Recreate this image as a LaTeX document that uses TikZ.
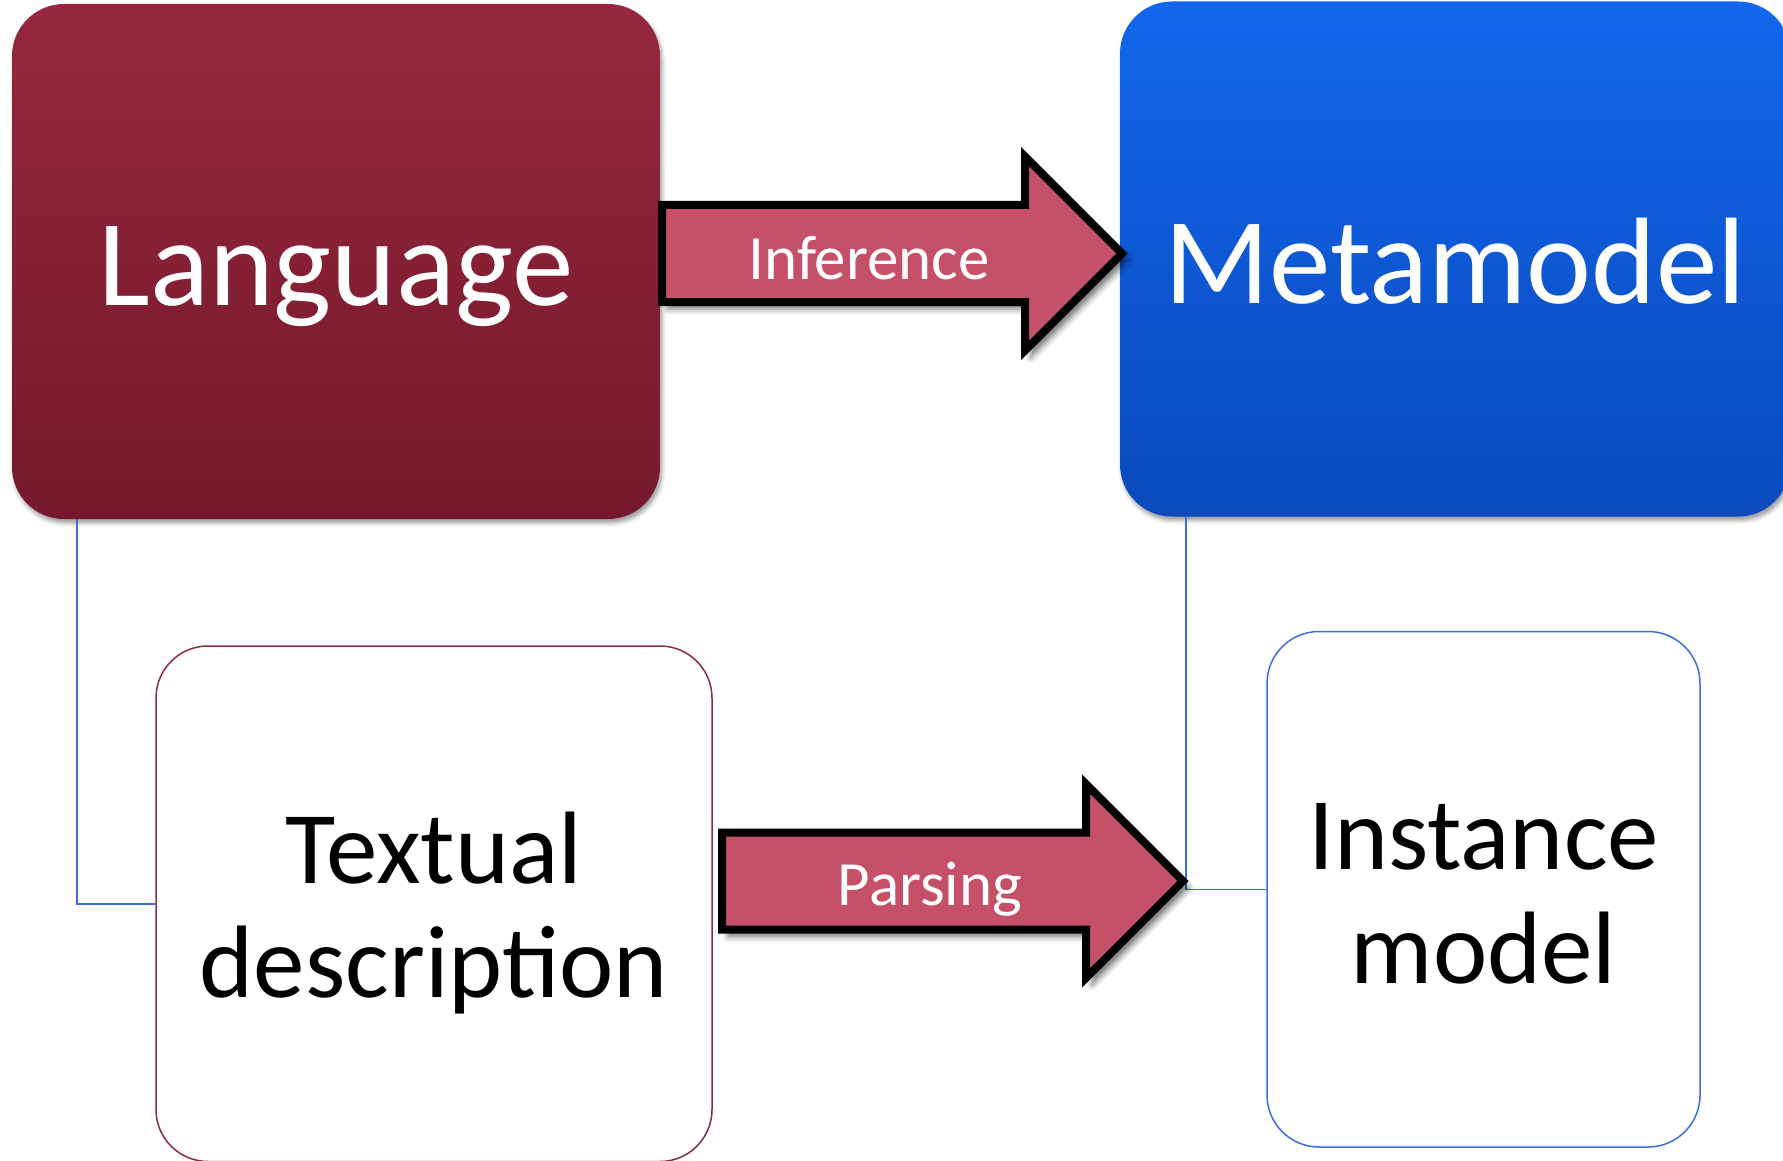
\documentclass[tikz,border=0pt]{standalone}
\usepackage{fontspec}
\setmainfont{Carlito}
\usetikzlibrary{shadows.blur}
\definecolor{langtop}{RGB}{150,40,62}
\definecolor{langbot}{RGB}{117,24,43}
\definecolor{metatop}{RGB}{18,102,235}
\definecolor{metabot}{RGB}{10,74,188}
\definecolor{arrowfill}{RGB}{197,81,105}
\definecolor{redline}{RGB}{140,45,62}
\definecolor{blueline}{RGB}{60,110,222}
\begin{document}
\begin{tikzpicture}[x=1pt,y=-1pt,
  bigbox/.style={rectangle, rounded corners=52pt, inner sep=0pt, outer sep=0pt,
    text=white, font=\fontsize{123}{148}\selectfont,
    blur shadow={shadow xshift=2pt, shadow yshift=-4pt, shadow blur radius=4pt, shadow opacity=40}},
  outbox/.style={rectangle, rounded corners=52pt, inner sep=0pt, outer sep=0pt,
    fill=white, line width=1.5pt, text=black, align=center,
    font=\fontsize{103}{114}\selectfont},
  conn/.style={draw=blueline, line width=1.5pt},
  blockarrow/.style={fill=arrowfill, draw=black, line width=8pt, line join=miter,
    blur shadow={shadow xshift=6pt, shadow yshift=-7pt, shadow blur radius=6pt, shadow opacity=55}},
  arrowlabel/.style={text=white, inner sep=0pt, font=\fontsize{63}{76}\selectfont}
]
\useasboundingbox (0,0) rectangle (1783,1161);
\clip (0,0) rectangle (1783,1161);

% top boxes
\node[bigbox, top color=langtop, bottom color=langbot,
  minimum width=648pt, minimum height=515pt, text height=87pt, text depth=0pt]
  (lang) at (336,261.5) {Language};
\node[bigbox, top color=metatop, bottom color=metabot,
  minimum width=670pt, minimum height=515pt, text height=88pt, text depth=0pt]
  (meta) at (1455,259) {Metamodel};

% bottom boxes
\node[outbox, draw=redline, minimum width=556pt, minimum height=515.5pt,
  text width=540pt, text height=100pt, text depth=140.3pt]
  (textual) at (434,903.75) {Textual\\description};
\node[outbox, draw=blueline, minimum width=433pt, minimum height=515.5pt,
  text width=410pt, text height=100pt, text depth=139.1pt]
  (inst) at (1483.5,889.25) {Instance\\model};

% connectors
\draw[conn] ([xshift=65pt]lang.south west) |- (textual.west);
\draw[conn] ([xshift=66pt]meta.south west) |- (inst.west);

% block arrows
\coordinate (infstart) at (662,253.5);
\coordinate (parstart) at (722,881);
\path[blockarrow] (infstart) ++(0,-48.5) -- ++(363,0) -- ++(0,-48.5) -- ++(97,97)
  -- ++(-97,97) -- ++(0,-48.5) -- ++(-363,0) -- cycle;
\path[blockarrow] (parstart) ++(0,-48.5) -- ++(364,0) -- ++(0,-48.5) -- ++(97,97)
  -- ++(-97,97) -- ++(0,-48.5) -- ++(-364,0) -- cycle;
\node[arrowlabel, anchor=base] (inflabel) at (869,279) {Inference};
\node[arrowlabel, anchor=base] (parslabel) at (930,905.6) {Parsing};
\end{tikzpicture}
\end{document}
